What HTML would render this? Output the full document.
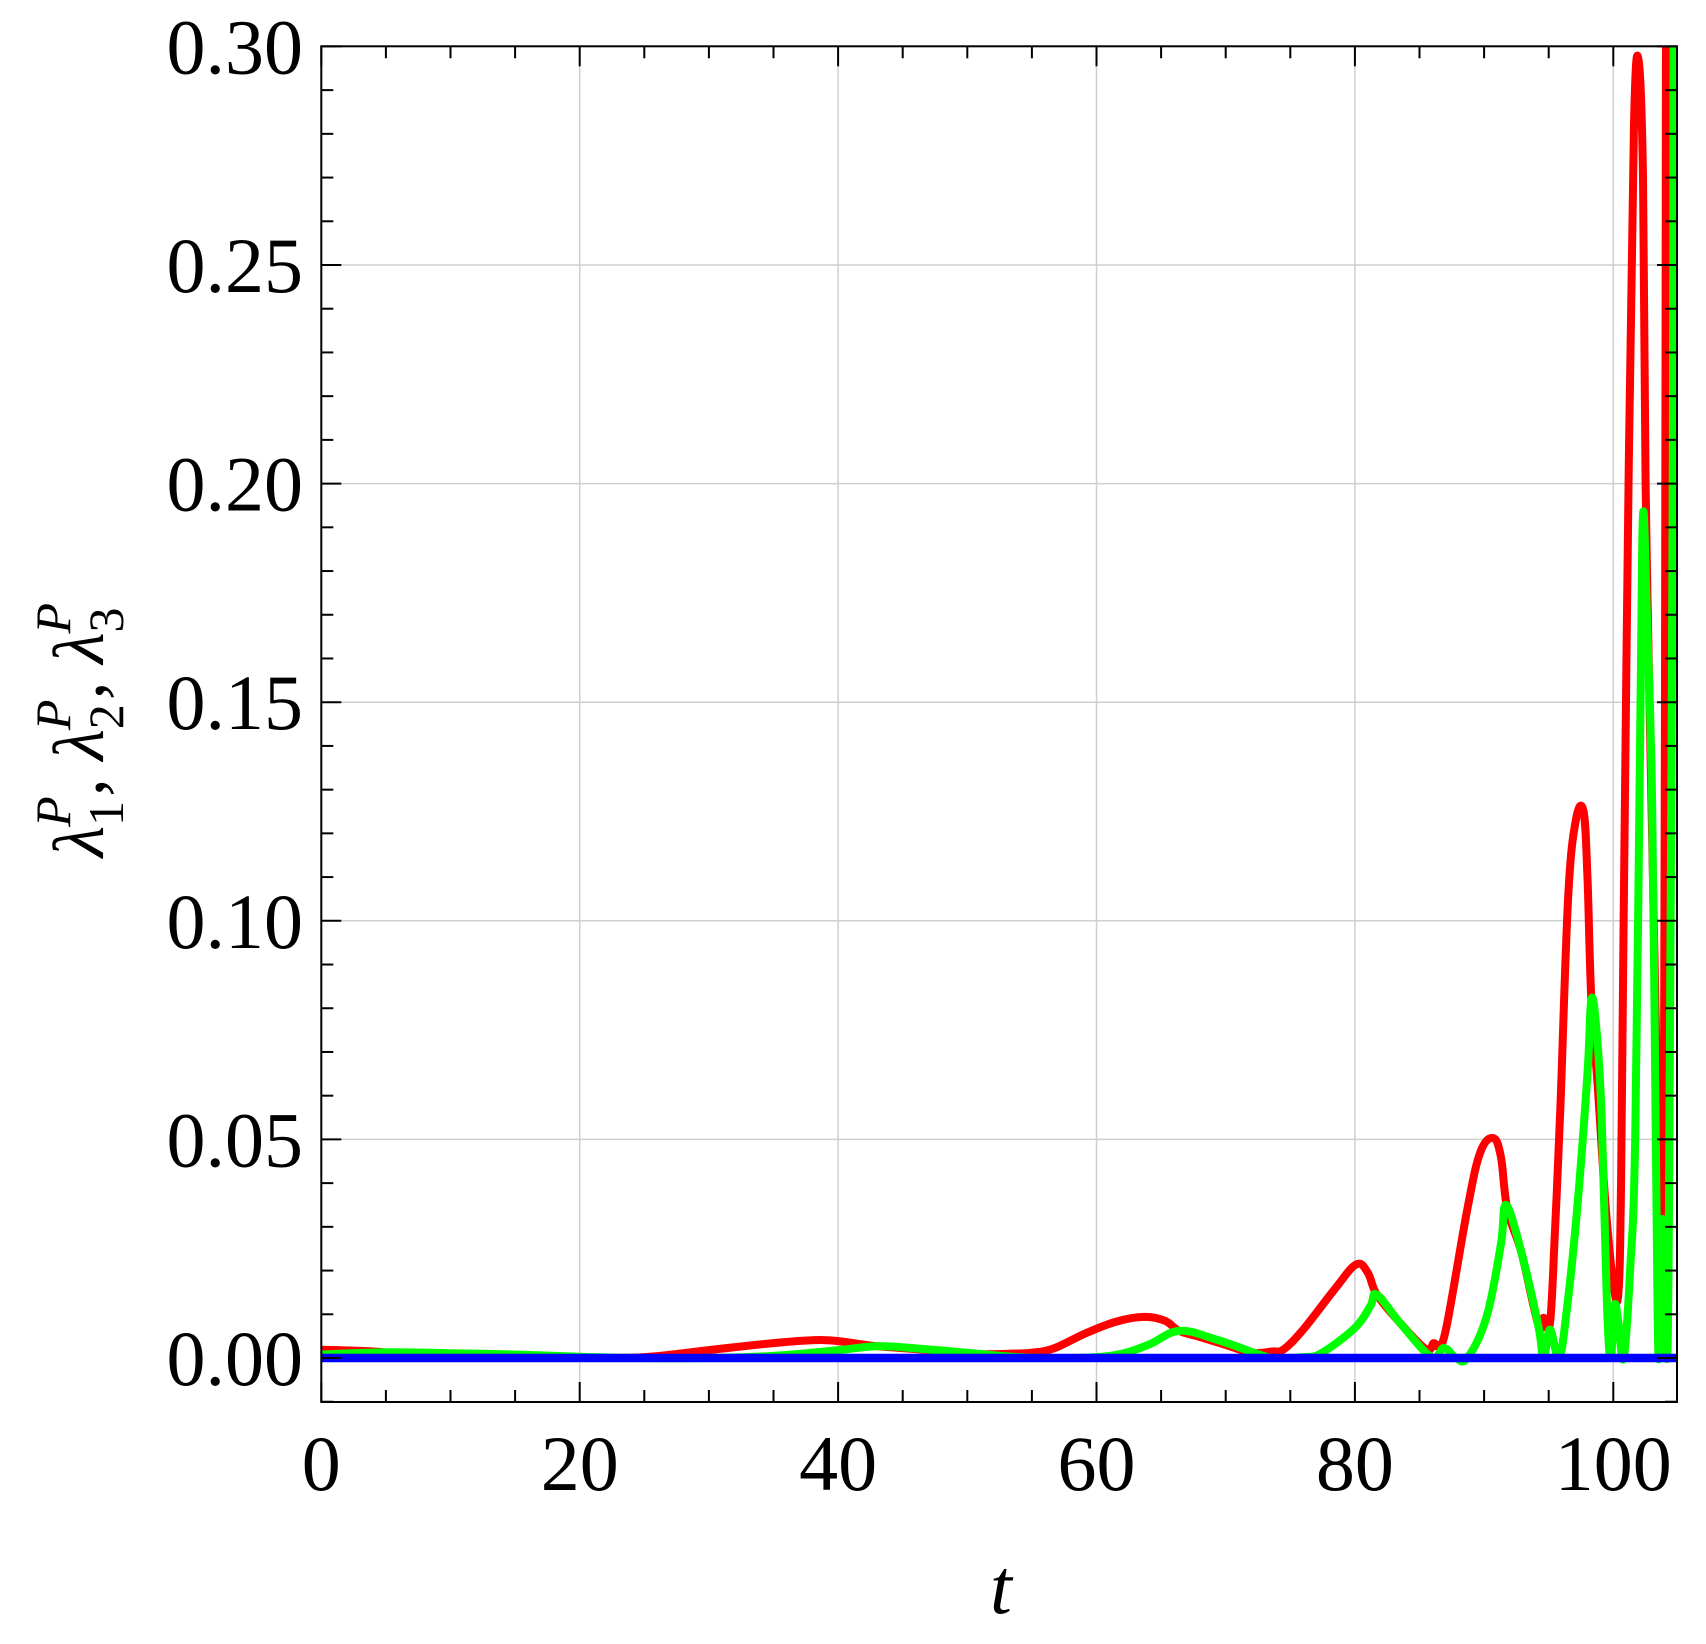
<!DOCTYPE html>
<html><head><meta charset="utf-8"><style>
html,body{margin:0;padding:0;background:#fff;}
svg{display:block;}
text{font-family:"Liberation Serif","DejaVu Serif",serif;fill:#000;}
</style></head><body>
<svg id="chart" width="1706" height="1644" viewBox="0 0 1706 1644" xmlns="http://www.w3.org/2000/svg">
<defs><clipPath id="plotclip"><rect x="321.3" y="46.3" width="1355.7" height="1355.7"/></clipPath></defs>
<g id="grid"></g>
<g id="series" clip-path="url(#plotclip)"></g>
<rect x="321.3" y="46.3" width="1355.7" height="1355.7" fill="none" stroke="#000" stroke-width="2"/>
<g id="ticks"></g>
<g id="labels"></g>
<text x="1001" y="1613" font-size="78" font-style="italic" text-anchor="middle">t</text>
<text transform="translate(103,730) rotate(-90)" text-anchor="middle" font-size="72" font-style="italic">λ<tspan font-size="50" font-style="normal" dy="20">1</tspan><tspan font-size="50" dy="-53" dx="-26">P</tspan><tspan dy="33">, λ</tspan><tspan font-size="50" font-style="normal" dy="20">2</tspan><tspan font-size="50" dy="-53" dx="-26">P</tspan><tspan dy="33">, λ</tspan><tspan font-size="50" font-style="normal" dy="20">3</tspan><tspan font-size="50" dy="-53" dx="-26">P</tspan></text>
</svg>
<script>
const xTicks = [0, 20, 40, 60, 80, 100];
const yTicks = [0.00, 0.05, 0.10, 0.15, 0.20, 0.25, 0.30];
const yTickLabels = ["0.00", "0.05", "0.10", "0.15", "0.20", "0.25", "0.30"];
const tRed = [0,4,8,12,20,25,30,35,38.9,41.9,43,47,51,53.5,55,56.7,59.2,61.5,63.7,65.3,66.4,68,70,72,73.6,74.5,76,78.4,80.1,81,81.7,83.5,85.5,86.1,86.5,87.1,88.7,89.7,90.7,91.3,91.8,92.9,94.2,94.6,95.1,95.5,95.9,96.5,97.1,97.7,98.0,98.3,98.8,99.4,100.0,100.4,100.6,100.8,101.2,101.6,101.95,102.3,102.5,103.0,103.4,103.9,104.0,104.1];
const vRed = [0.0019,0.0015,0.0004,0.0001,0,0.0002,0.0018,0.0034,0.0041,0.0031,0.0027,0.0018,0.0009,0.001,0.0012,0.0022,0.0057,0.0083,0.0094,0.0085,0.0062,0.0048,0.003,0.0012,0.0015,0.002,0.0065,0.0156,0.0214,0.0195,0.0145,0.008,0.002,0.0034,0.0028,0.0073,0.034,0.047,0.0503,0.046,0.034,0.024,0.0075,0.0092,0.008,0.03,0.057,0.105,0.123,0.125,0.11,0.082,0.062,0.035,0.017,0.015,0.04,0.1,0.205,0.282,0.297,0.27,0.2,0.12,0.06,0.037,0.15,0.35];
const tGreen = [0,5,10,15,20,24,30,35,40,43,46,50,54,58,61.5,64,66.4,69.3,72.9,74,76,77.4,80,81.2,81.7,83.5,85.9,86.9,87.8,88.7,90.2,91.3,91.7,92.9,94.2,94.6,95.1,95.8,96.4,97.2,98.0,98.3,98.7,99.1,99.5,99.8,100.1,100.4,100.8,101.3,101.7,102.1,102.3,102.6,103.0,103.3,103.5,103.7,103.9,104.1,104.3,104.6,104.7];
const vGreen = [0.0008,0.0013,0.0011,0.0008,0.0003,0,0,0.0005,0.0018,0.0027,0.0022,0.0012,0.0002,0,0.0007,0.003,0.0062,0.0042,0.0005,0,0.0002,0.0011,0.0069,0.0119,0.0145,0.008,0.0003,0.0023,0.0001,0,0.0095,0.026,0.035,0.024,0.0073,0,0.0065,0,0.011,0.034,0.065,0.082,0.075,0.055,0.013,0,0.012,0.008,0,0.02,0.051,0.148,0.193,0.17,0.128,0.047,0,0.028,0.028,0,0.03,0.2,0.35];
const tBlue = [0, 105];
const vBlue = [0, 0];

const X0 = 321.3, XPU = 12.92, Y0 = 1358, YPU = 4372;
function xs(t){ return X0 + t * XPU; }
function ys(v){ return Y0 - v * YPU; }
const NS = "http://www.w3.org/2000/svg";
function mk(tag, attrs, parent){ const e = document.createElementNS(NS, tag); for (const k in attrs) e.setAttribute(k, attrs[k]); parent.appendChild(e); return e; }

const grid = document.getElementById('grid');
xTicks.forEach(t => { if (t > 0) { const l = mk('line', {x1: xs(t), x2: xs(t), y1: 46.3, y2: 1402, stroke: '#cfcfcf', 'stroke-width': 1.5}, grid);
  
   } });
yTicks.forEach(v => { if (v > 0 && v < 0.3) { const l = mk('line', {x1: 321.3, x2: 1677, y1: ys(v), y2: ys(v), stroke: '#cfcfcf', 'stroke-width': 1.5}, grid);
  
   } });

const ticks = document.getElementById('ticks');
for (let t = 0; t <= 104.9; t += 5) {
  const len = (t % 20 === 0) ? 20 : 12;
  const a = mk('line', {x1: xs(t), x2: xs(t), y1: 1402, y2: 1402 - len, stroke: '#000', 'stroke-width': 2}, ticks);
  
  
  const b = mk('line', {x1: xs(t), x2: xs(t), y1: 46.3, y2: 46.3 + len, stroke: '#000', 'stroke-width': 2}, ticks);
  
  
}
for (let i = -1; i <= 30; i++) {
  const v = i / 100; const len = (i % 5 === 0) ? 20 : 12;
  const a = mk('line', {x1: 321.3, x2: 321.3 + len, y1: ys(v), y2: ys(v), stroke: '#000', 'stroke-width': 2}, ticks);
  
  
  const b = mk('line', {x1: 1677, x2: 1677 - len, y1: ys(v), y2: ys(v), stroke: '#000', 'stroke-width': 2}, ticks);
  
  
}

const labels = document.getElementById('labels');
xTicks.forEach(t => { const e = mk('text', {x: xs(t), y: 1490, 'font-size': 78, 'text-anchor': 'middle'}, labels); e.textContent = String(t);
  
   });
yTicks.forEach((v, i) => { const e = mk('text', {x: 303, y: ys(v) + 27, 'font-size': 78, 'text-anchor': 'end'}, labels); e.textContent = yTickLabels[i];
  
   });

function pathFor(ts, vs){
  const p = ts.map((t, i) => [xs(t), ys(vs[i])]);
  let d = 'M' + p[0][0] + ',' + p[0][1];
  for (let i = 0; i < p.length - 1; i++) {
    const p0 = p[Math.max(0, i - 1)], p1 = p[i], p2 = p[i + 1], p3 = p[Math.min(p.length - 1, i + 2)];
    const k = 0.18;
    const c1 = [p1[0] + (p2[0] - p0[0]) * k, p1[1] + (p2[1] - p0[1]) * k];
    const c2 = [p2[0] - (p3[0] - p1[0]) * k, p2[1] - (p3[1] - p1[1]) * k];
    d += ' C' + c1[0] + ',' + c1[1] + ' ' + c2[0] + ',' + c2[1] + ' ' + p2[0] + ',' + p2[1];
  }
  return d;
}
const series = document.getElementById('series');
const red = mk('path', {d: pathFor(tRed, vRed), fill: 'none', stroke: '#ff0000', 'stroke-width': 8, 'stroke-linejoin': 'round'}, series);


const green = mk('path', {d: pathFor(tGreen, vGreen), fill: 'none', stroke: '#00ff00', 'stroke-width': 8, 'stroke-linejoin': 'round'}, series);


const blue = mk('path', {d: 'M' + xs(tBlue[0]) + ',' + ys(vBlue[0]) + ' L' + xs(tBlue[1]) + ',' + ys(vBlue[1]), fill: 'none', stroke: '#0000ff', 'stroke-width': 8.5}, series);


</script>
</body></html>
